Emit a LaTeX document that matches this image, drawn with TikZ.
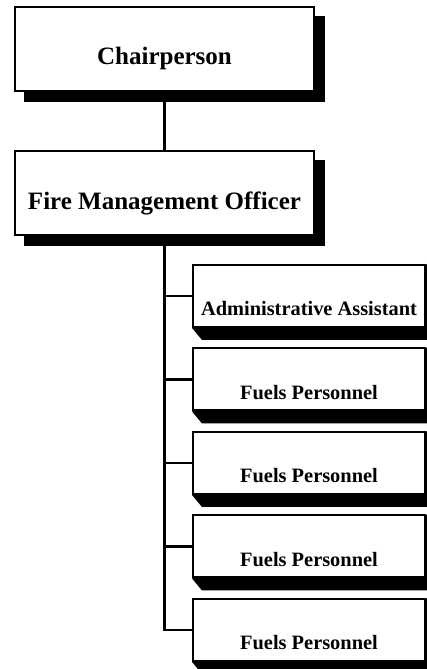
\documentclass[tikz,border=0pt]{standalone}
\usepackage{fontspec}
\setmainfont{Liberation Serif}
\usetikzlibrary{positioning}

\pgfdeclarelayer{background}
\pgfsetlayers{background,main}

\tikzset{
  bigbox/.style={draw, line width=2pt, fill=white, minimum width=299pt, minimum height=84pt,
    inner sep=0pt, font=\fontsize{25}{30}\selectfont\bfseries, text height=32pt, text depth=0pt},
  smallbox/.style={draw, line width=2pt, fill=white, minimum width=232pt, minimum height=62pt,
    inner sep=0pt, font=\fontsize{20.4}{24}\selectfont\bfseries, text height=40pt, text depth=0pt},
  link/.style={line width=2.2pt}
}

\begin{document}
\begin{tikzpicture}[x=1pt,y=1pt]
        \useasboundingbox (0,0) rectangle (427,669);

        % Top of the chart
        \node[bigbox] (chair) at (164.5,620) {Chairperson};
        \node[bigbox] (fmo) at (164.5,475.5) {Fire Management Officer};

        % Staff boxes
        \foreach \n/\y/\t in {adm/373/Administrative Assistant, fp1/289.5/Fuels Personnel,
                              fp2/206/Fuels Personnel, fp3/122.5/Fuels Personnel, fp4/39/Fuels Personnel} {
            \node[smallbox] (\n) at (309,\y) {\t};
        }

        % Shadows
        \begin{pgfonlayer}{background}
            \foreach \n in {chair,fmo} {
                \fill ([shift={(10,-10)}]\n.south west) rectangle ([shift={(10,-10)}]\n.north east);
            }
            \foreach \n in {adm,fp1,fp2,fp3,fp4} {
                \fill (\n.south west) -- ([shift={(10,-12)}]\n.south west) -- ([shift={(10,-12)}]\n.south east)
                    -- ([shift={(10,-10)}]\n.north east) -- (\n.north east) -- cycle;
            }
        \end{pgfonlayer}

        % Lines
        \draw[link] (chair) -- (fmo);
        \draw[link] (fmo.south) |- (fp4.west);
        \foreach \n in {adm,fp1,fp2,fp3} {
            \draw[link] (\n.west) -- (\n.west -| fmo.south);
        }
    \end{tikzpicture}
\end{document}
